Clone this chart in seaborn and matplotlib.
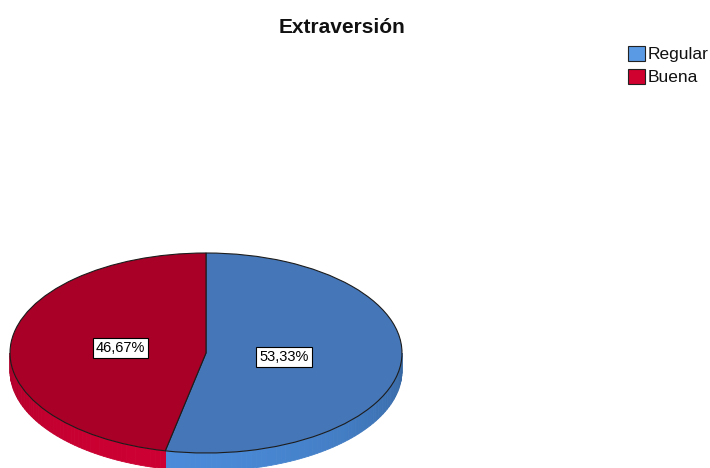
import numpy as np
import matplotlib
matplotlib.use("Agg")
import matplotlib.pyplot as plt
import matplotlib.colors as mcolors
from matplotlib.patches import Polygon, Patch
import seaborn as sns

# Frequencies of the "Extraversión" dimension (percent)
categories = ["Regular", "Buena"]
percentages = [53.33, 46.67]
label_texts = ["53,33%", "46,67%"]

top_colors = ["#4577b8", "#a80026"]
side_colors = ["#4a8ad8", "#cc0032"]
legend_colors = ["#5a9ae4", "#d0002f"]

sns.set_theme(style="white")
plt.rcParams["font.family"] = ["Liberation Sans", "DejaVu Sans"]

fig = plt.figure(figsize=(7.10, 4.68), dpi=100)
ax = fig.add_axes([0, 0, 1, 1])

wedges, _ = ax.pie(
    percentages,
    colors=top_colors,
    startangle=90,
    counterclock=False,
    radius=1.0,
    wedgeprops=dict(edgecolor="#1c1c1c", linewidth=0.8, zorder=3),
)

# Side wall of the tilted disc: only the front half (180..360 deg) is visible
depth = 0.18
step = 1.5
for wedge, base in zip(wedges, side_colors):
    spans = []
    a1, a2 = wedge.theta1, wedge.theta2
    for shift in (-360, 0, 360):
        s, e = max(a1 + shift, 180), min(a2 + shift, 360)
        if e > s:
            spans.append((s, e))
    rgb = np.array(mcolors.to_rgb(base))
    for s, e in spans:
        edges = np.arange(s, e + step, step)
        edges[-1] = e
        for a, b in zip(edges[:-1], edges[1:]):
            if b <= a:
                continue
            ra, rb = np.radians(a), np.radians(b)
            mid = np.radians(0.5 * (a + b))
            light = 0.80 + 0.20 * np.cos(mid - np.radians(255))
            col = np.clip(rgb * light, 0, 1)
            poly = Polygon(
                [(np.cos(ra), np.sin(ra)), (np.cos(rb), np.sin(rb)),
                 (np.cos(rb), np.sin(rb) - depth), (np.cos(ra), np.sin(ra) - depth)],
                closed=True, facecolor=col, edgecolor=col, linewidth=0.6, zorder=1,
            )
            ax.add_patch(poly)

# Percentage labels in boxed tags along each wedge's middle direction
label_radius = [0.40, 0.44]
for wedge, txt, r in zip(wedges, label_texts, label_radius):
    mid = np.radians(0.5 * (wedge.theta1 + wedge.theta2))
    ax.text(r * np.cos(mid), r * np.sin(mid), txt, ha="center", va="center",
            fontsize=10.5, color="black", zorder=5,
            bbox=dict(boxstyle="square,pad=0.2", fc="white", ec="black", lw=0.8))

# Stretch the unit disc into the flattened ellipse
ax.set_aspect("auto")
ax.set_xlim(-206 / 196, 504 / 196)
ax.set_ylim(-1.15, 3.53)
ax.set_axis_off()

fig.text(0.482, 0.942, "Extraversión", ha="center", va="center",
         fontsize=15, fontweight="bold", color="#111111")

handles = [Patch(facecolor=c, edgecolor="#222222", linewidth=0.8) for c in legend_colors]
fig.legend(handles, categories, loc="upper left", bbox_to_anchor=(0.8845, 0.902),
           frameon=False, fontsize=12.5, handlelength=0.96, handleheight=0.96,
           handletextpad=0.16, labelspacing=0.36, borderpad=0, borderaxespad=0,
           labelcolor="#111111")

fig.savefig("out.png", dpi=100, facecolor="white")
